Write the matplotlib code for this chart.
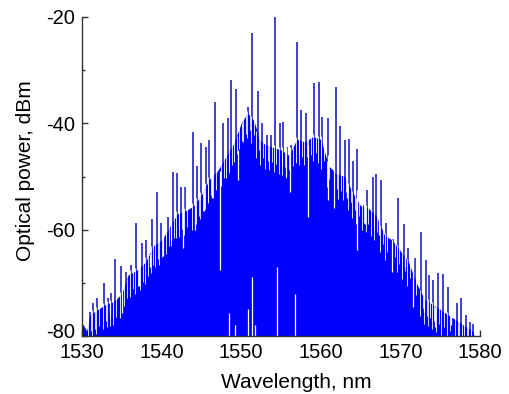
import numpy as np
import matplotlib.pyplot as plt
from matplotlib.transforms import ScaledTranslation

plt.rcParams['font.family'] = ['Liberation Sans', 'DejaVu Sans']
plt.rcParams['axes.unicode_minus'] = False

# Upper edge of the dense part of the comb (nm, dBm)
env_wl = [1530.0, 1530.6, 1531.0, 1532.0, 1533.0, 1534.0, 1535.0, 1535.8, 1537.0,
          1538.0, 1539.0, 1540.0, 1541.0, 1542.0, 1543.0, 1544.0, 1545.0, 1546.0,
          1547.0, 1548.0, 1549.0, 1550.0, 1550.8, 1551.6, 1552.3, 1553.0, 1554.0,
          1555.0, 1556.0, 1557.0, 1558.0, 1559.0, 1560.0, 1561.0, 1562.0, 1563.0,
          1564.0, 1565.0, 1566.0, 1567.0, 1568.0, 1569.0, 1570.0, 1571.0, 1572.0,
          1573.0, 1574.0, 1575.0, 1576.0, 1577.0, 1578.0, 1579.0, 1579.4]
env_db = [-77.5, -79.0, -76.0, -75.0, -74.0, -73.5, -72.0, -68.5, -67.5,
          -66.0, -63.0, -62.0, -59.5, -57.0, -56.5, -55.5, -53.5, -50.5,
          -49.0, -46.5, -44.0, -40.0, -38.0, -39.5, -43.0, -44.0, -44.5,
          -45.0, -46.0, -43.0, -43.5, -42.5, -43.0, -48.0, -49.5, -50.0,
          -53.0, -55.5, -56.0, -57.5, -61.0, -62.0, -64.0, -66.0, -70.0,
          -73.0, -74.0, -75.0, -76.0, -77.0, -78.0, -79.0, -80.0]

# Individual comb lines standing above the dense part
peak_wl = [1531.0, 1531.4, 1531.9, 1532.8, 1533.3, 1533.7, 1534.1, 1534.9, 1535.5,
           1536.2, 1536.8, 1537.5, 1538.1, 1538.8, 1539.4, 1539.9, 1540.8, 1541.4,
           1542.0, 1542.4, 1543.0, 1544.0, 1544.5, 1545.0, 1545.6, 1546.0, 1546.7,
           1547.7, 1548.3, 1548.7, 1549.3, 1549.9, 1550.4, 1550.9, 1551.4, 1552.1,
           1552.6, 1553.2, 1553.7, 1554.25, 1554.9, 1555.3, 1555.8, 1556.3, 1557.05,
           1557.5, 1558.1, 1558.6, 1559.2, 1559.8, 1560.2, 1560.9, 1561.9, 1562.4,
           1563.0, 1563.6, 1564.1, 1564.6, 1565.3, 1565.8, 1566.5, 1566.9, 1567.6,
           1568.2, 1569.1, 1569.7, 1570.4, 1571.0, 1571.8, 1572.6, 1573.2, 1573.6,
           1574.1, 1574.7, 1575.3, 1576.0, 1577.1, 1577.6, 1578.2, 1578.7, 1579.1]
peak_db = [-75.5, -73.8, -72.8, -70.0, -72.8, -71.9, -65.5, -66.8, -68.0,
           -66.6, -58.7, -62.5, -61.9, -57.9, -53.0, -58.7, -57.6, -49.1,
           -49.4, -52.0, -52.0, -41.6, -48.1, -43.7, -44.4, -43.1, -36.0,
           -40.0, -39.0, -31.8, -33.5, -42.0, -39.4, -37.0, -23.0, -34.0,
           -40.0, -42.2, -42.2, -20.0, -40.0, -39.7, -44.4, -44.0, -24.8,
           -37.5, -38.0, -46.3, -32.4, -32.3, -38.8, -39.0, -33.2, -40.5,
           -43.1, -42.9, -47.0, -44.8, -55.3, -52.6, -50.0, -49.6, -50.6,
           -58.7, -61.7, -54.0, -59.0, -63.4, -65.3, -60.4, -65.7, -68.5,
           -69.4, -68.1, -68.3, -70.7, -73.8, -72.8, -76.0, -77.4, -77.8]

# Deep gaps between lines (nm, lower dBm, upper dBm)
gap_wl = [1533.5, 1535.0, 1537.2, 1538.5, 1540.2, 1541.2, 1542.7, 1544.2, 1545.3,
          1546.3, 1547.35, 1548.5, 1549.2, 1549.6, 1550.8, 1551.3, 1551.8, 1554.45,
          1555.6, 1556.1, 1556.8, 1558.4, 1560.9, 1561.6, 1563.3, 1564.5, 1565.5,
          1567.3, 1569.0, 1570.6, 1571.6, 1573.0, 1574.4, 1576.4]
gap_lo = [-76.0, -75.6, -70.5, -67.0, -65.0, -62.0, -63.4, -60.0, -56.5,
          -54.0, -67.5, -81.0, -81.0, -50.6, -81.0, -81.0, -81.0, -81.0,
          -50.0, -53.0, -81.0, -57.6, -54.4, -56.0, -54.0, -63.8, -59.0,
          -61.0, -68.0, -67.0, -74.5, -75.5, -78.3, -78.0]
gap_hi = [-73.5, -71.0, -67.0, -64.5, -58.0, -59.0, -52.0, -55.0, -52.5,
          -49.5, -49.0, -75.6, -78.0, -45.0, -75.0, -68.8, -78.0, -67.0,
          -44.5, -44.5, -72.0, -44.0, -46.0, -48.5, -49.5, -52.5, -54.5,
          -56.5, -62.0, -64.0, -65.0, -72.5, -74.5, -75.8]

fig = plt.figure(figsize=(5.09, 3.94), dpi=100)
ax = fig.add_axes([0.161, 0.147, 0.782, 0.810])

# lines go under the dense part, only their tops show
ax.vlines(peak_wl, -85, peak_db, color='#2020c4', lw=1.2, zorder=1)
ax.fill_between(env_wl, -85, env_db, color='#0000ff', lw=0, zorder=2)

# thin white slits either side of each line, cut a little into the dense part
base = np.interp(peak_wl, env_wl, env_db)
side = 0.18
ax.vlines(np.array(peak_wl) - side, base - 4.5, base + 0.5, color='white', lw=0.6, zorder=3)
ax.vlines(np.array(peak_wl) + side, base - 3.0, base + 0.5, color='white', lw=0.6, zorder=3)
ax.vlines(gap_wl, gap_lo, gap_hi, color='white', lw=0.9, zorder=3)

ax.set_xlim(1530, 1580)
ax.set_ylim(-80, -20)
ax.set_xticks([1530, 1540, 1550, 1560, 1570, 1580])
ax.set_yticks([-80, -60, -40, -20])
ax.set_yticks([-70, -50, -30], minor=True)
ax.set_xticks([1535, 1545, 1555, 1565, 1575], minor=True)

for s in ['top', 'right']:
    ax.spines[s].set_visible(False)
for s in ['left', 'bottom']:
    ax.spines[s].set_color('#333333')
    ax.spines[s].set_linewidth(1.0)
    ax.spines[s].set_zorder(4)

ax.tick_params(which='major', direction='in', length=4, width=1.0,
               color='#333333', labelsize=14.5, pad=5)
ax.tick_params(which='minor', direction='in', length=2.5, width=1.0,
               color='#333333')

# lift the bottom y label off the x labels
ylabels = ax.get_yticklabels()
ylabels[0].set_transform(ylabels[0].get_transform() +
                         ScaledTranslation(0, 6 / 100, fig.dpi_scale_trans))

ax.set_xlabel('Wavelength, nm', fontsize=15)
ax.xaxis.set_label_coords(0.539, -0.115)
ax.set_ylabel('Optical power, dBm', fontsize=15)
ax.yaxis.set_label_coords(-0.117, 0.52)

plt.savefig('out.png', dpi=100)
plt.close(fig)
